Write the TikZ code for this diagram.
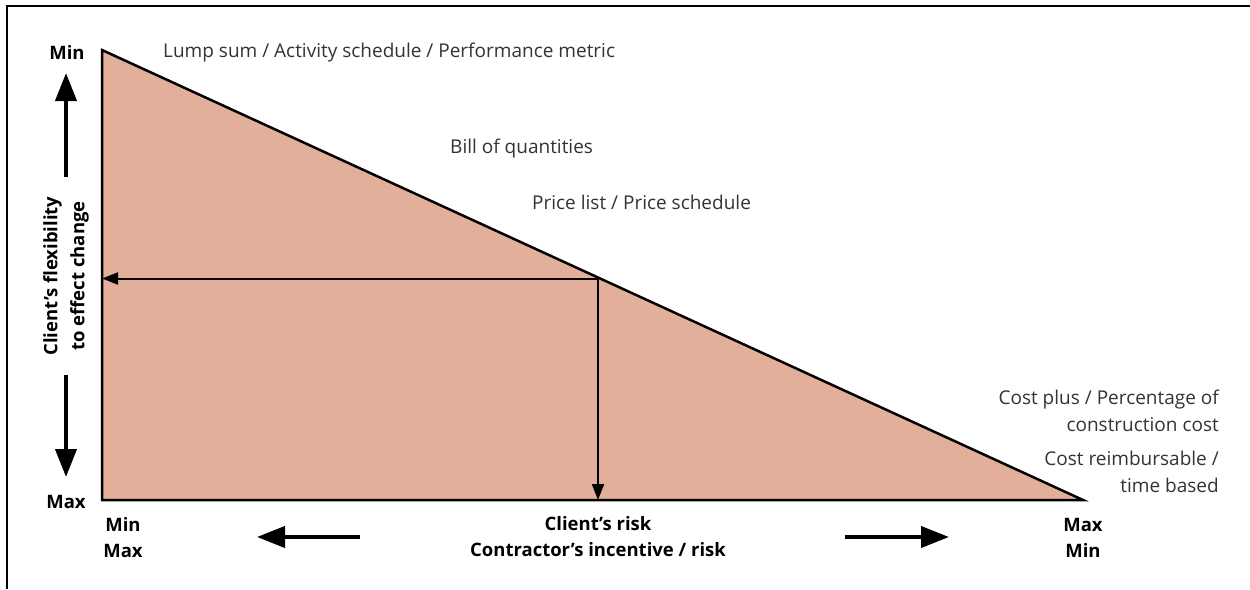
\documentclass[tikz,border=0pt]{standalone}
\usepackage{fontspec}
\setmainfont{Open Sans}
\usetikzlibrary{arrows.meta}
\definecolor{wedge}{HTML}{E2AF9B}
\begin{document}
\begin{tikzpicture}[x=1pt,y=-1pt,
  frameline/.style={line width=1.5pt,black},
  wedgeshape/.style={fill=wedge,draw=black,line width=2.5pt,line join=miter},
  thinarrow/.style={line width=2pt,-{Triangle[length=16pt,width=12pt]}},
  bigarrow/.style={line width=4pt,-{Triangle[length=28pt,width=21pt]}},
  lighttext/.style={font=\fontsize{19}{27}\selectfont,text=black!80,inner sep=0pt},
  boldtext/.style={font=\fontsize{18.5}{26}\selectfont\bfseries,inner sep=0pt,align=center}]
\useasboundingbox (0,0) rectangle (1250,589);
% frame (top and left only)
\draw[frameline] (7,589) -- (7,6) -- (1250,6);
% corners
\coordinate (A) at (102,50);
\coordinate (B) at (102,500);
\coordinate (C) at (1083,500);
\coordinate (P) at (598,278.5);
\filldraw[wedgeshape] (A) -- (B) -- (C) -- cycle;
\draw[thinarrow] (P) -- (B|-P);
\draw[thinarrow] (P) -- (P|-B);
% left axis
\node[boldtext] (ymin) at (67,52) {Min};
\node[boldtext] (ymax) at (66,502) {Max};
\node[boldtext,rotate=90,font=\fontsize{18.5}{27}\selectfont\bfseries] (ylab) at (66,276) {Client’s flexibility\\to effect change};
\coordinate (upS) at (66,177);
\coordinate (upE) at (66,73);
\coordinate (dnS) at (66,375);
\coordinate (dnE) at (66,477);
\draw[bigarrow] (upS) -- (upE);
\draw[bigarrow] (dnS) -- (dnE);
% bottom axis
\node[boldtext] (xleft) at (123,538) {Min\\Max};
\node[boldtext] (xmid) at (598,537) {Client’s risk\\Contractor’s incentive / risk};
\node[boldtext] (xright) at (1083,538) {Max\\Min};
\coordinate (lS) at (360,537);
\coordinate (lE) at (257,537);
\coordinate (rS) at (845,537);
\coordinate (rE) at (949,537);
\draw[bigarrow] (lS) -- (lE);
\draw[bigarrow] (rS) -- (rE);
% contract labels
\node[lighttext,anchor=base west] (lump) at (163,57) {Lump sum / Activity schedule / Performance metric};
\node[lighttext,anchor=base west] (boq) at (450,153) {Bill of quantities};
\node[lighttext,anchor=base west] (price) at (532,209) {Price list / Price schedule};
\node[lighttext,anchor=east,align=right] (costplus) at (1219,410.5) {Cost plus / Percentage of\\construction cost};
\node[lighttext,anchor=east,align=right] (costreimb) at (1219,471.5) {Cost reimbursable /\\time based};
\end{tikzpicture}
\end{document}
